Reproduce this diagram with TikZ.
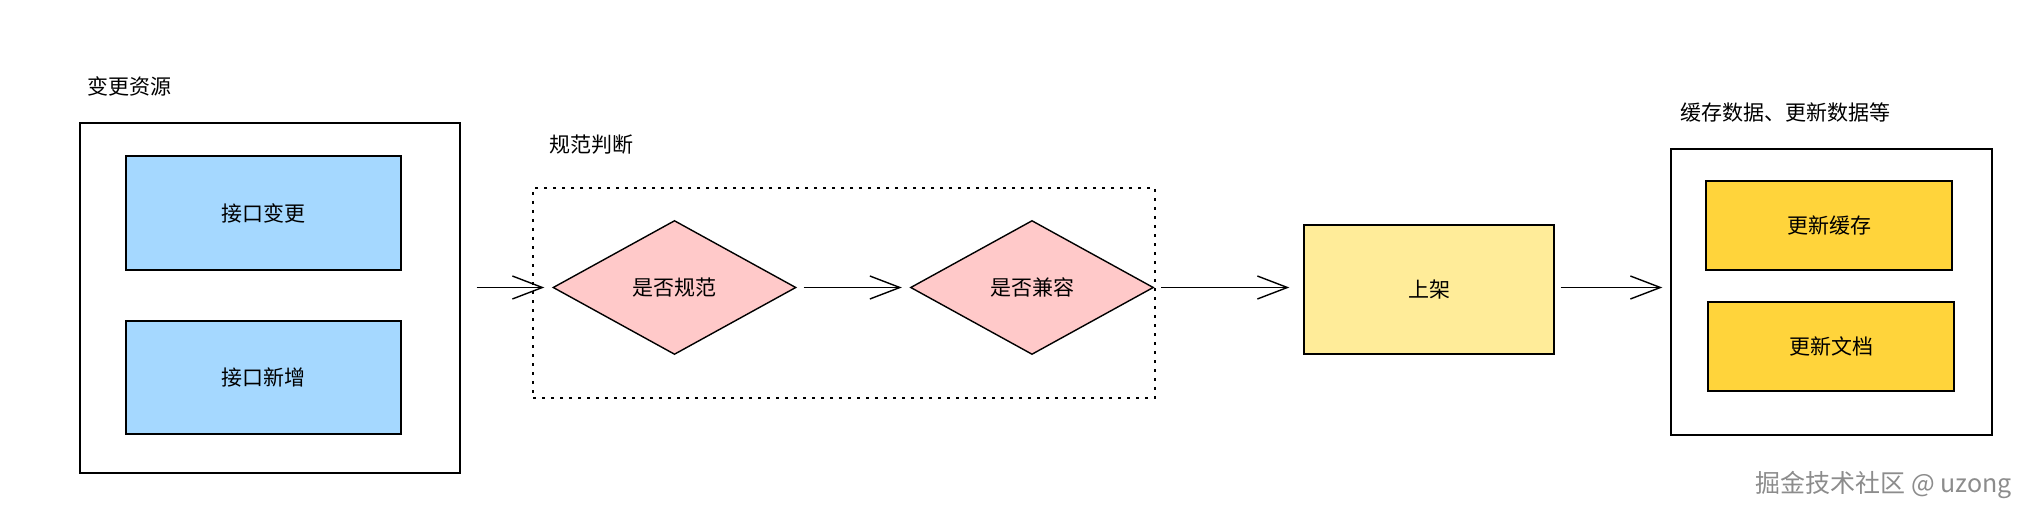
\documentclass[tikz,border=0pt]{standalone}
\usepackage{fontspec}
\setmainfont{Noto Sans CJK SC}
\usetikzlibrary{shapes.geometric,arrows.meta}

\definecolor{srcblue}{HTML}{A5D8FF}
\definecolor{checkpink}{HTML}{FFC9C9}
\definecolor{shelfyellow}{HTML}{FFEC99}
\definecolor{doneyellow}{HTML}{FFD43B}

\begin{document}
\begin{tikzpicture}[x=0.5pt,y=-0.5pt,
  group/.style={draw,line width=0.7pt,inner sep=0pt},
  dotgroup/.style={draw,line width=0.8pt,dash pattern=on 1.5pt off 3pt,inner sep=0pt},
  item/.style={draw,line width=0.7pt,inner sep=0pt,font=\fontsize{10.5}{12}\selectfont},
  decision/.style={diamond,draw,line width=0.7pt,fill=checkpink,inner sep=0pt,
    minimum width=121.5pt,minimum height=67pt,font=\fontsize{10.5}{12}\selectfont},
  title/.style={anchor=west,inner sep=0pt,font=\fontsize{10.5}{12}\selectfont},
  watermark/.style={anchor=west,inner sep=0pt,text=black!45,font=\fontsize{12.5}{14}\selectfont},
  flow/.style={line width=0.7pt,-{Straight Barb[length=15pt,width=11.5pt,line width=0.7pt]}}]
\useasboundingbox (0,0) rectangle (2030,518);

% change sources
\node[group,minimum width=190pt,minimum height=175pt] (src) at (270,298) {};
\node[title] (srctitle) at (87,86) {变更资源};
\node[item,fill=srcblue,minimum width=137.5pt,minimum height=57pt] (apichange) at (263.5,213) {接口变更};
\node[item,fill=srcblue,minimum width=137.5pt,minimum height=56.5pt] (apiadd) at (263.5,377.5) {接口新增};

% checks
\node[dotgroup,minimum width=311pt,minimum height=105pt] (check) at (844,293) {};
\node[title] (checktitle) at (549,145) {规范判断};
\node[decision] (std) at (674.5,287.5) {是否规范};
\node[decision] (compat) at (1032,287.5) {是否兼容};

% release
\node[item,fill=shelfyellow,minimum width=125pt,minimum height=64.5pt] (shelf) at (1429,289.5) {上架};

% updates
\node[group,minimum width=160.5pt,minimum height=143pt] (dst) at (1831.5,292) {};
\node[title] (dsttitle) at (1680,113) {缓存数据、更新数据等};
\node[item,fill=doneyellow,minimum width=123pt,minimum height=44.5pt] (cache) at (1829,225.5) {更新缓存};
\node[item,fill=doneyellow,minimum width=123pt,minimum height=44.5pt] (docs) at (1831,346.5) {更新文档};

\node[watermark] (wm) at (1755,485) {掘金技术社区 @ uzong};

% connectors
\draw[flow,shorten <=8pt,shorten >=4pt] (src.east |- std.west) -- (std.west);
\draw[flow,shorten <=3.5pt,shorten >=4pt] (std.east) -- (compat.west);
\draw[flow,shorten <=3.5pt,shorten >=7pt] (compat.east) -- (shelf.west |- compat.east);
\draw[flow,shorten <=3pt,shorten >=4pt] (shelf.east |- compat.east) -- (dst.west |- compat.east);
\end{tikzpicture}
\end{document}
